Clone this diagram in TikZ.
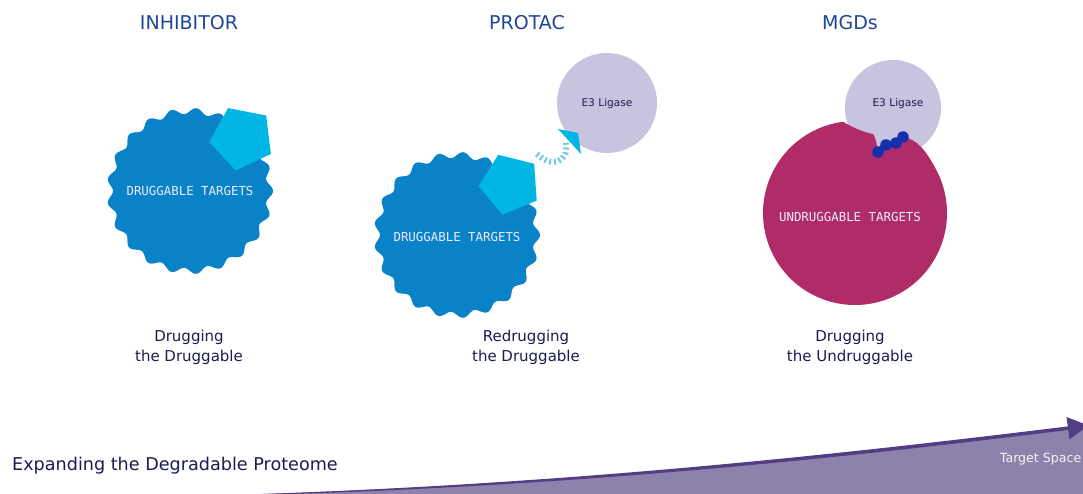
\documentclass[tikz,border=0pt]{standalone}
\usepackage{fontspec}
\setmainfont{DejaVu Sans}
\newfontfamily\labelmono{DejaVu Sans Mono}
\usetikzlibrary{shapes.geometric,arrows.meta}
\definecolor{titleblue}{RGB}{32,70,152}
\definecolor{targetblue}{RGB}{10,130,200}
\definecolor{pentcyan}{RGB}{0,182,228}
\definecolor{dashcyan}{RGB}{110,200,230}
\definecolor{lavender}{RGB}{200,196,224}
\definecolor{magentat}{RGB}{176,44,104}
\definecolor{dotblue}{RGB}{22,48,172}
\definecolor{navytext}{RGB}{28,28,80}
\definecolor{wedgefill}{RGB}{142,130,172}
\definecolor{wedgeline}{RGB}{82,62,130}
\begin{document}
\begin{tikzpicture}[x=1pt,y=-1pt,
  titletext/.style={text=titleblue,font=\fontsize{19}{22}\selectfont,anchor=base,inner sep=0},
  subtext/.style={text=navytext,font=\fontsize{15}{20}\selectfont,align=center,inner sep=0},
  targettext/.style={text=white!92!blue,font=\labelmono\fontsize{12.4}{14}\selectfont,inner sep=0},
  e3text/.style={text=navytext,font=\fontsize{10.6}{12}\selectfont,inner sep=0},
  pentagonbox/.style={regular polygon,regular polygon sides=5,fill=pentcyan,inner sep=0},
  e3circle/.style={circle,fill=lavender,inner sep=0},
  dotnode/.style={circle,fill=dotblue,minimum size=11.5pt,inner sep=0}]
\useasboundingbox (0,0) rectangle (1083,494);
\clip (0,0) rectangle (1083,494);
\fill[white] (0,0) rectangle (1083,494);

% ---------- titles ----------
\node[titletext] (t1) at (189,29.5) {INHIBITOR};
\node[titletext] (t2) at (527,29.5) {PROTAC};
\node[titletext] (t3) at (850,29.5) {MGDs};

% ---------- INHIBITOR ----------
\fill[targetblue] plot[domain=0:360,samples=361] ({190+(80+3*cos(21*\x))*cos(\x)},{191+(80+3*cos(21*\x))*sin(\x)}) -- cycle;
\node[pentagonbox,minimum size=66pt,rotate=25] (p1) at (242,138) {};
\node[targettext] (d1) at (190,191) {DRUGGABLE TARGETS};
\node[subtext] (s1) at (189,347) {Drugging\\the Druggable};

% ---------- PROTAC ----------
\fill[targetblue] plot[domain=0:360,samples=361] ({457+(80+3*cos(21*\x))*cos(\x)},{235+(80+3*cos(21*\x))*sin(\x)}) -- cycle;
\node[e3circle,minimum size=100pt] (e3a) at (607,103) {};
\node[e3text] at (e3a.center) [yshift=-1pt] {E3 Ligase};
\node[pentagonbox,minimum size=63pt,rotate=22] (p2) at (510,184) {};
\node[targettext] (d2) at (457,237) {DRUGGABLE TARGETS};
\coordinate (arcstart) at (537,154);
\coordinate (arcend) at (566,143);
\draw[dashcyan,line width=6pt,dash pattern=on 2pt off 2.8pt] (arcstart) .. controls (551,168) and (569,163) .. (arcend);
\coordinate (tri1) at (558,129);
\coordinate (tri2) at (578,133);
\coordinate (tri3) at (581,154);
\fill[pentcyan] (tri1) -- (tri2) -- (tri3) -- cycle;
\node[subtext] (s2) at (526,347) {Redrugging\\the Druggable};

% ---------- MGDs ----------
\node[e3circle,minimum size=96pt] (e3b) at (893,108) {};
\fill[magentat] plot[domain=30:-262.6,samples=150] ({855+92*cos(\x)},{213-92*sin(\x)})
  .. controls (853,128) and (866,133) .. (873,134)
  .. controls (876,138) and (877,146) .. (878,152)
  -- (903,137)
  .. controls (917,139) and (926,151) .. (934.7,167) -- cycle;
\node[e3text] at (898,104) {E3 Ligase};
\node[dotnode] (m1) at (878,152) {};
\node[dotnode] (m2) at (886,145) {};
\node[dotnode] (m3) at (896,143) {};
\node[dotnode] (m4) at (903,137) {};
\draw[dotblue,line width=6pt,line cap=round] (m1.center) -- (m2.center) -- (m3.center) -- (m4.center);
\node[targettext] (d3) at (850,217) {UNDRUGGABLE TARGETS};
\node[subtext] (s3) at (850,347) {Drugging\\the Undruggable};

% ---------- bottom wedge ----------
\coordinate (ws) at (230,495);
\coordinate (we) at (1072,426);
\fill[wedgefill] (ws) .. controls (600,485) and (900,448) .. (we) -- (1090,424) -- (1090,500) -- (230,500) -- cycle;
\fill[wedgeline] (ws) .. controls (600,484) and (900,446.5) .. (we)
  -- (1072,429.5) .. controls (900,450.5) and (600,487.5) .. (230,495.6) -- cycle;
\coordinate (tip) at (1088.5,425.5);
\coordinate (back1) at (1066.4,417);
\coordinate (back2) at (1069.4,439.5);
\fill[wedgeline] (back1) -- (tip) -- (back2) -- (1068,428) -- cycle;
\node[anchor=base east,inner sep=0,text=white!92!gray,font=\fontsize{12.6}{15}\selectfont] (ts) at (1081.5,462) {Target Space};
\node[anchor=base west,inner sep=0,text=navytext,font=\fontsize{17.6}{20}\selectfont] (exp) at (12,470) {Expanding the Degradable Proteome};
\end{tikzpicture}
\end{document}
